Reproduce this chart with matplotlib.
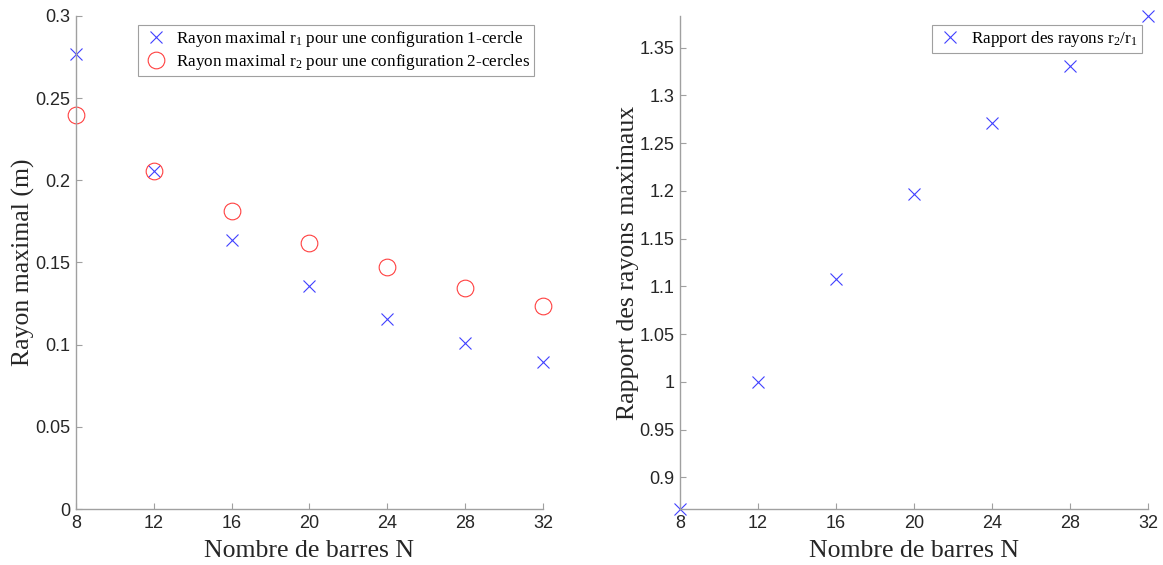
import numpy as np
import matplotlib as mpl
mpl.use('Agg')
import matplotlib.pyplot as plt

# data
nBars = [8, 12, 16, 20, 24, 28, 32]
r1 = [0.2768, 0.2055, 0.1636, 0.1358, 0.1156, 0.1010, 0.0897]
r2 = [0.2400, 0.2055, 0.1812, 0.1620, 0.1471, 0.1344, 0.1235]
ratio = [0.867, 1.000, 1.108, 1.197, 1.271, 1.331, 1.383]

xticks = [8, 12, 16, 20, 24, 28, 32]
yticksLeft = [0, 0.05, 0.1, 0.15, 0.2, 0.25, 0.3]
yticksRight = [0.9, 0.95, 1.0, 1.05, 1.1, 1.15, 1.2, 1.25, 1.3, 1.35]

plt.rcParams['mathtext.fontset'] = 'custom'
plt.rcParams['mathtext.rm'] = 'Liberation Serif'
plt.rcParams['mathtext.it'] = 'Liberation Serif:italic'

serif = 'Liberation Serif'
sans = 'Liberation Sans'
axcol = '#a0a0a0'
txtcol = '#262626'


def styleAxes(ax):
    for s in ['top', 'right']:
        ax.spines[s].set_visible(False)
    for s in ['left', 'bottom']:
        ax.spines[s].set_color(axcol)
        ax.spines[s].set_linewidth(1.0)
    ax.tick_params(direction='in', length=4, width=0.8, color=axcol,
                   labelcolor=txtcol, labelsize=13, pad=4)
    for lab in ax.get_xticklabels() + ax.get_yticklabels():
        lab.set_fontfamily(sans)


fig = plt.figure(figsize=(11.63, 5.65), dpi=100)
ax1 = fig.add_axes([0.0653, 0.0991, 0.4015, 0.8726])
ax2 = fig.add_axes([0.5847, 0.0991, 0.4024, 0.8726])

# left: maximal radii
ax1.plot(nBars, r1, 'x', color='#4040ff', ms=9, mew=0.8, clip_on=False,
         label=r'Rayon maximal r$_\mathrm{1}$ pour une configuration 1-cercle')
ax1.plot(nBars, r2, 'o', mfc='none', mec='#ff4040', ms=12, mew=0.8, clip_on=False,
         label=r'Rayon maximal r$_\mathrm{2}$ pour une configuration 2-cercles')
ax1.set_xlim(8, 32)
ax1.set_ylim(0, 0.3)
ax1.set_xticks(xticks)
ax1.set_yticks(yticksLeft)
ax1.set_yticklabels(['0', '0.05', '0.1', '0.15', '0.2', '0.25', '0.3'])
ax1.set_xlabel('Nombre de barres N', fontfamily=serif, fontsize=18.5, color=txtcol, labelpad=6)
ax1.set_ylabel('Rayon maximal (m)', fontfamily=serif, fontsize=18.5, color=txtcol, labelpad=0)
styleAxes(ax1)
leg = ax1.legend(loc='upper right', bbox_to_anchor=(1.0, 1.0), prop={'family': serif, 'size': 12.3},
                 fancybox=False, edgecolor='#a0a0a0', framealpha=1, borderpad=0.25,
                 handletextpad=0.4, labelspacing=0.2, handlelength=1.6)
leg.get_frame().set_linewidth(0.8)

# right: ratio r2/r1
ax2.plot(nBars, ratio, 'x', color='#4040ff', ms=9, mew=0.8, clip_on=False,
         label=r'Rapport des rayons r$_\mathrm{2}$/r$_\mathrm{1}$')
ax2.set_xlim(8, 32)
ax2.set_ylim(min(ratio), max(ratio))
ax2.set_xticks(xticks)
ax2.set_yticks(yticksRight)
ax2.set_yticklabels(['0.9', '0.95', '1', '1.05', '1.1', '1.15', '1.2', '1.25', '1.3', '1.35'])
ax2.set_xlabel('Nombre de barres N', fontfamily=serif, fontsize=18.5, color=txtcol, labelpad=6)
ax2.set_ylabel('Rapport des rayons maximaux', fontfamily=serif, fontsize=18.5, color=txtcol, labelpad=0)
styleAxes(ax2)
leg2 = ax2.legend(loc='upper right', bbox_to_anchor=(1.005, 1.0), prop={'family': serif, 'size': 12.3},
                  fancybox=False, edgecolor='#a0a0a0', framealpha=1, borderpad=0.25,
                  handletextpad=0.4, handlelength=1.6)
leg2.get_frame().set_linewidth(0.8)

fig.savefig('out.png', dpi=100)
